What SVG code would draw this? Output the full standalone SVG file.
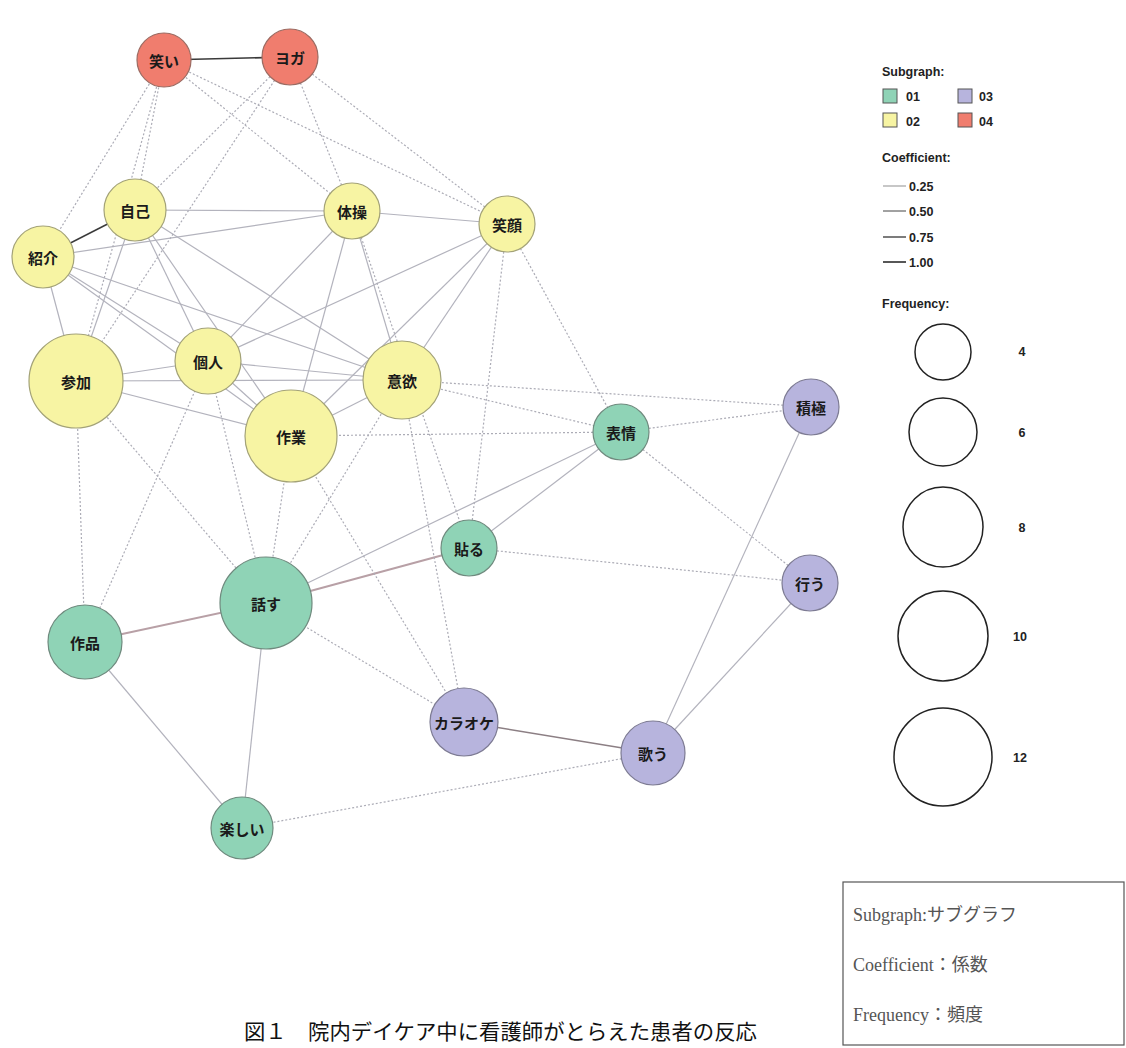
<svg xmlns="http://www.w3.org/2000/svg" width="1126" height="1048" viewBox="0 0 1126 1048">
<style>
.s{stroke:#b3b3bd;stroke-width:1.2;fill:none}
.d{stroke:#acacb6;stroke-width:1.2;stroke-dasharray:2 2;fill:none}
.dk{stroke:#3a3a3a;stroke-width:1.6}
.rd{stroke:#b8a0a6;stroke-width:2}
.g{fill:#8fd3b6;stroke:#6f8a7e;stroke-width:1.2}
.y{fill:#f7f4a3;stroke:#a3a277;stroke-width:1.2}
.p{fill:#b7b4dd;stroke:#7d7b93;stroke-width:1.2}
.r{fill:#f07d6e;stroke:#9c6b62;stroke-width:1.2}
.lb{font-family:"Noto Sans CJK JP","Noto Sans",sans-serif;font-size:15px;font-weight:bold;fill:#1a1a1a;text-anchor:middle;dominant-baseline:central}
.lg{font-family:"Liberation Sans","Open Sans",sans-serif;font-size:12.5px;font-weight:bold;fill:#222}
.fc{fill:none;stroke:#222;stroke-width:1.5}
.bx{font-family:"Liberation Serif","Noto Sans CJK JP",serif;font-size:18px;fill:#555}
</style>
<rect width="1126" height="1048" fill="#ffffff"/>
<g id="connectors">
<line class="s dk" x1="164" y1="60" x2="290" y2="57"/>
<line class="s dk" x1="43" y1="257" x2="135" y2="210"/>
<line class="s" x1="135" y1="210" x2="352" y2="211"/>
<line class="s" x1="352" y1="211" x2="507" y2="224"/>
<line class="s" x1="43" y1="257" x2="352" y2="211"/>
<line class="s" x1="43" y1="257" x2="76" y2="381"/>
<line class="s" x1="135" y1="210" x2="76" y2="381"/>
<line class="s" x1="135" y1="210" x2="208" y2="361"/>
<line class="s" x1="135" y1="210" x2="291" y2="436"/>
<line class="s" x1="135" y1="210" x2="402" y2="380"/>
<line class="s" x1="43" y1="257" x2="208" y2="361"/>
<line class="s" x1="43" y1="257" x2="291" y2="436"/>
<line class="s" x1="43" y1="257" x2="402" y2="380"/>
<line class="s" x1="352" y1="211" x2="208" y2="361"/>
<line class="s" x1="352" y1="211" x2="291" y2="436"/>
<line class="s" x1="352" y1="211" x2="402" y2="380"/>
<line class="s" x1="507" y1="224" x2="402" y2="380"/>
<line class="s" x1="507" y1="224" x2="291" y2="436"/>
<line class="s" x1="507" y1="224" x2="208" y2="361"/>
<line class="s" x1="76" y1="381" x2="208" y2="361"/>
<line class="s" x1="76" y1="381" x2="402" y2="380"/>
<line class="s" x1="76" y1="381" x2="291" y2="436"/>
<line class="s" x1="208" y1="361" x2="402" y2="380"/>
<line class="s" x1="208" y1="361" x2="291" y2="436"/>
<line class="s" x1="402" y1="380" x2="291" y2="436"/>
<line class="s" x1="266" y1="603" x2="621" y2="432"/>
<line class="s" x1="469" y1="548" x2="621" y2="432"/>
<line class="s rd" x1="266" y1="603" x2="469" y2="548"/>
<line class="s rd" x1="85" y1="642" x2="266" y2="603"/>
<line class="s" x1="266" y1="603" x2="242" y2="828"/>
<line class="s" x1="85" y1="642" x2="242" y2="828"/>
<line class="s" x1="811" y1="407" x2="653" y2="753"/>
<line class="s" x1="810" y1="583" x2="653" y2="753"/>
<line class="s" style="stroke:#8c7f84;stroke-width:1.6" x1="464" y1="722" x2="653" y2="753"/>
<line class="d" x1="164" y1="60" x2="43" y2="257"/>
<line class="d" x1="164" y1="60" x2="135" y2="210"/>
<line class="d" x1="164" y1="60" x2="76" y2="381"/>
<line class="d" x1="164" y1="60" x2="352" y2="211"/>
<line class="d" x1="164" y1="60" x2="507" y2="224"/>
<line class="d" x1="290" y1="57" x2="135" y2="210"/>
<line class="d" x1="290" y1="57" x2="76" y2="381"/>
<line class="d" x1="290" y1="57" x2="352" y2="211"/>
<line class="d" x1="290" y1="57" x2="507" y2="224"/>
<line class="d" x1="507" y1="224" x2="621" y2="432"/>
<line class="d" x1="507" y1="224" x2="469" y2="548"/>
<line class="d" x1="402" y1="380" x2="811" y2="407"/>
<line class="d" x1="402" y1="380" x2="621" y2="432"/>
<line class="d" x1="291" y1="436" x2="621" y2="432"/>
<line class="d" x1="621" y1="432" x2="811" y2="407"/>
<line class="d" x1="621" y1="432" x2="810" y2="583"/>
<line class="d" x1="469" y1="548" x2="810" y2="583"/>
<line class="d" x1="352" y1="211" x2="469" y2="548"/>
<line class="d" x1="402" y1="380" x2="464" y2="722"/>
<line class="d" x1="291" y1="436" x2="464" y2="722"/>
<line class="d" x1="266" y1="603" x2="464" y2="722"/>
<line class="d" x1="242" y1="828" x2="653" y2="753"/>
<line class="d" x1="76" y1="381" x2="85" y2="642"/>
<line class="d" x1="76" y1="381" x2="266" y2="603"/>
<line class="d" x1="208" y1="361" x2="85" y2="642"/>
<line class="d" x1="208" y1="361" x2="266" y2="603"/>
<line class="d" x1="291" y1="436" x2="266" y2="603"/>
<line class="d" x1="402" y1="380" x2="266" y2="603"/>
</g>
<g id="n-warai"><circle class="r" cx="164" cy="60" r="27"/><text class="lb" x="164" y="60">笑い</text></g>
<g id="n-yoga"><circle class="r" cx="290" cy="57" r="28"/><text class="lb" x="290" y="57">ヨガ</text></g>
<g id="n-jiko"><circle class="y" cx="135" cy="210" r="31"/><text class="lb" x="135" y="210">自己</text></g>
<g id="n-taiso"><circle class="y" cx="352" cy="211" r="28"/><text class="lb" x="352" y="211">体操</text></g>
<g id="n-egao"><circle class="y" cx="507" cy="224" r="28"/><text class="lb" x="507" y="224">笑顔</text></g>
<g id="n-shokai"><circle class="y" cx="43" cy="257" r="31"/><text class="lb" x="43" y="257">紹介</text></g>
<g id="n-sanka"><circle class="y" cx="76" cy="381" r="47"/><text class="lb" x="76" y="381">参加</text></g>
<g id="n-kojin"><circle class="y" cx="208" cy="361" r="33"/><text class="lb" x="208" y="361">個人</text></g>
<g id="n-iyoku"><circle class="y" cx="402" cy="380" r="39"/><text class="lb" x="402" y="380">意欲</text></g>
<g id="n-sagyo"><circle class="y" cx="291" cy="436" r="46"/><text class="lb" x="291" y="436">作業</text></g>
<g id="n-hyojo"><circle class="g" cx="621" cy="432" r="28"/><text class="lb" x="621" y="432">表情</text></g>
<g id="n-sekkyoku"><circle class="p" cx="811" cy="407" r="28"/><text class="lb" x="811" y="407">積極</text></g>
<g id="n-haru"><circle class="g" cx="469" cy="548" r="28"/><text class="lb" x="469" y="548">貼る</text></g>
<g id="n-okonau"><circle class="p" cx="810" cy="583" r="28"/><text class="lb" x="810" y="583">行う</text></g>
<g id="n-hanasu"><circle class="g" cx="266" cy="603" r="46"/><text class="lb" x="266" y="603">話す</text></g>
<g id="n-sakuhin"><circle class="g" cx="85" cy="642" r="37"/><text class="lb" x="85" y="642">作品</text></g>
<g id="n-karaoke"><circle class="p" cx="464" cy="722" r="34"/><text class="lb" x="464" y="722">カラオケ</text></g>
<g id="n-utau"><circle class="p" cx="653" cy="753" r="32"/><text class="lb" x="653" y="753">歌う</text></g>
<g id="n-tanoshii"><circle class="g" cx="242" cy="828" r="31"/><text class="lb" x="242" y="828">楽しい</text></g>
<g id="legend">
<text class="lg" x="882" y="76">Subgraph:</text>
<rect x="883" y="89" width="14" height="14" fill="#8fd3b6" stroke="#555" stroke-width="1"/>
<text class="lg" x="906" y="101">01</text>
<rect x="958" y="89" width="14" height="14" fill="#b7b4dd" stroke="#555" stroke-width="1"/>
<text class="lg" x="979" y="101">03</text>
<rect x="883" y="113" width="14" height="14" fill="#f7f4a3" stroke="#555" stroke-width="1"/>
<text class="lg" x="906" y="126">02</text>
<rect x="958" y="113" width="14" height="14" fill="#f07d6e" stroke="#555" stroke-width="1"/>
<text class="lg" x="979" y="126">04</text>
<text class="lg" x="882" y="162">Coefficient:</text>
<line x1="883" y1="186" x2="906" y2="186" stroke="#444" stroke-width="0.6"/>
<text class="lg" x="909" y="191">0.25</text>
<line x1="883" y1="211" x2="906" y2="211" stroke="#444" stroke-width="1"/>
<text class="lg" x="909" y="216">0.50</text>
<line x1="883" y1="237" x2="906" y2="237" stroke="#444" stroke-width="1.4"/>
<text class="lg" x="909" y="242">0.75</text>
<line x1="883" y1="262" x2="906" y2="262" stroke="#444" stroke-width="1.8"/>
<text class="lg" x="909" y="267">1.00</text>
<text class="lg" x="882" y="308">Frequency:</text>
<circle class="fc" cx="943" cy="352" r="28"/>
<text class="lg" x="1022" y="356" text-anchor="middle">4</text>
<circle class="fc" cx="943" cy="432" r="34"/>
<text class="lg" x="1022" y="437" text-anchor="middle">6</text>
<circle class="fc" cx="943" cy="527" r="40"/>
<text class="lg" x="1022" y="532" text-anchor="middle">8</text>
<circle class="fc" cx="943" cy="636" r="45"/>
<text class="lg" x="1020" y="641" text-anchor="middle">10</text>
<circle class="fc" cx="943" cy="757" r="49"/>
<text class="lg" x="1020" y="762" text-anchor="middle">12</text>
</g>
<g id="notes">
<rect x="843" y="882" width="281" height="163" fill="#ffffff" stroke="#555" stroke-width="1.2"/>
<text class="bx" x="853" y="921">Subgraph:サブグラフ</text>
<text class="bx" x="853" y="971">Coefficient：係数</text>
<text class="bx" x="853" y="1021">Frequency：頻度</text>
</g>
<text x="244" y="1039" font-family="Noto Sans CJK JP, sans-serif" font-size="21" fill="#111" textLength="513" lengthAdjust="spacingAndGlyphs">図１　院内デイケア中に看護師がとらえた患者の反応</text>
</svg>
